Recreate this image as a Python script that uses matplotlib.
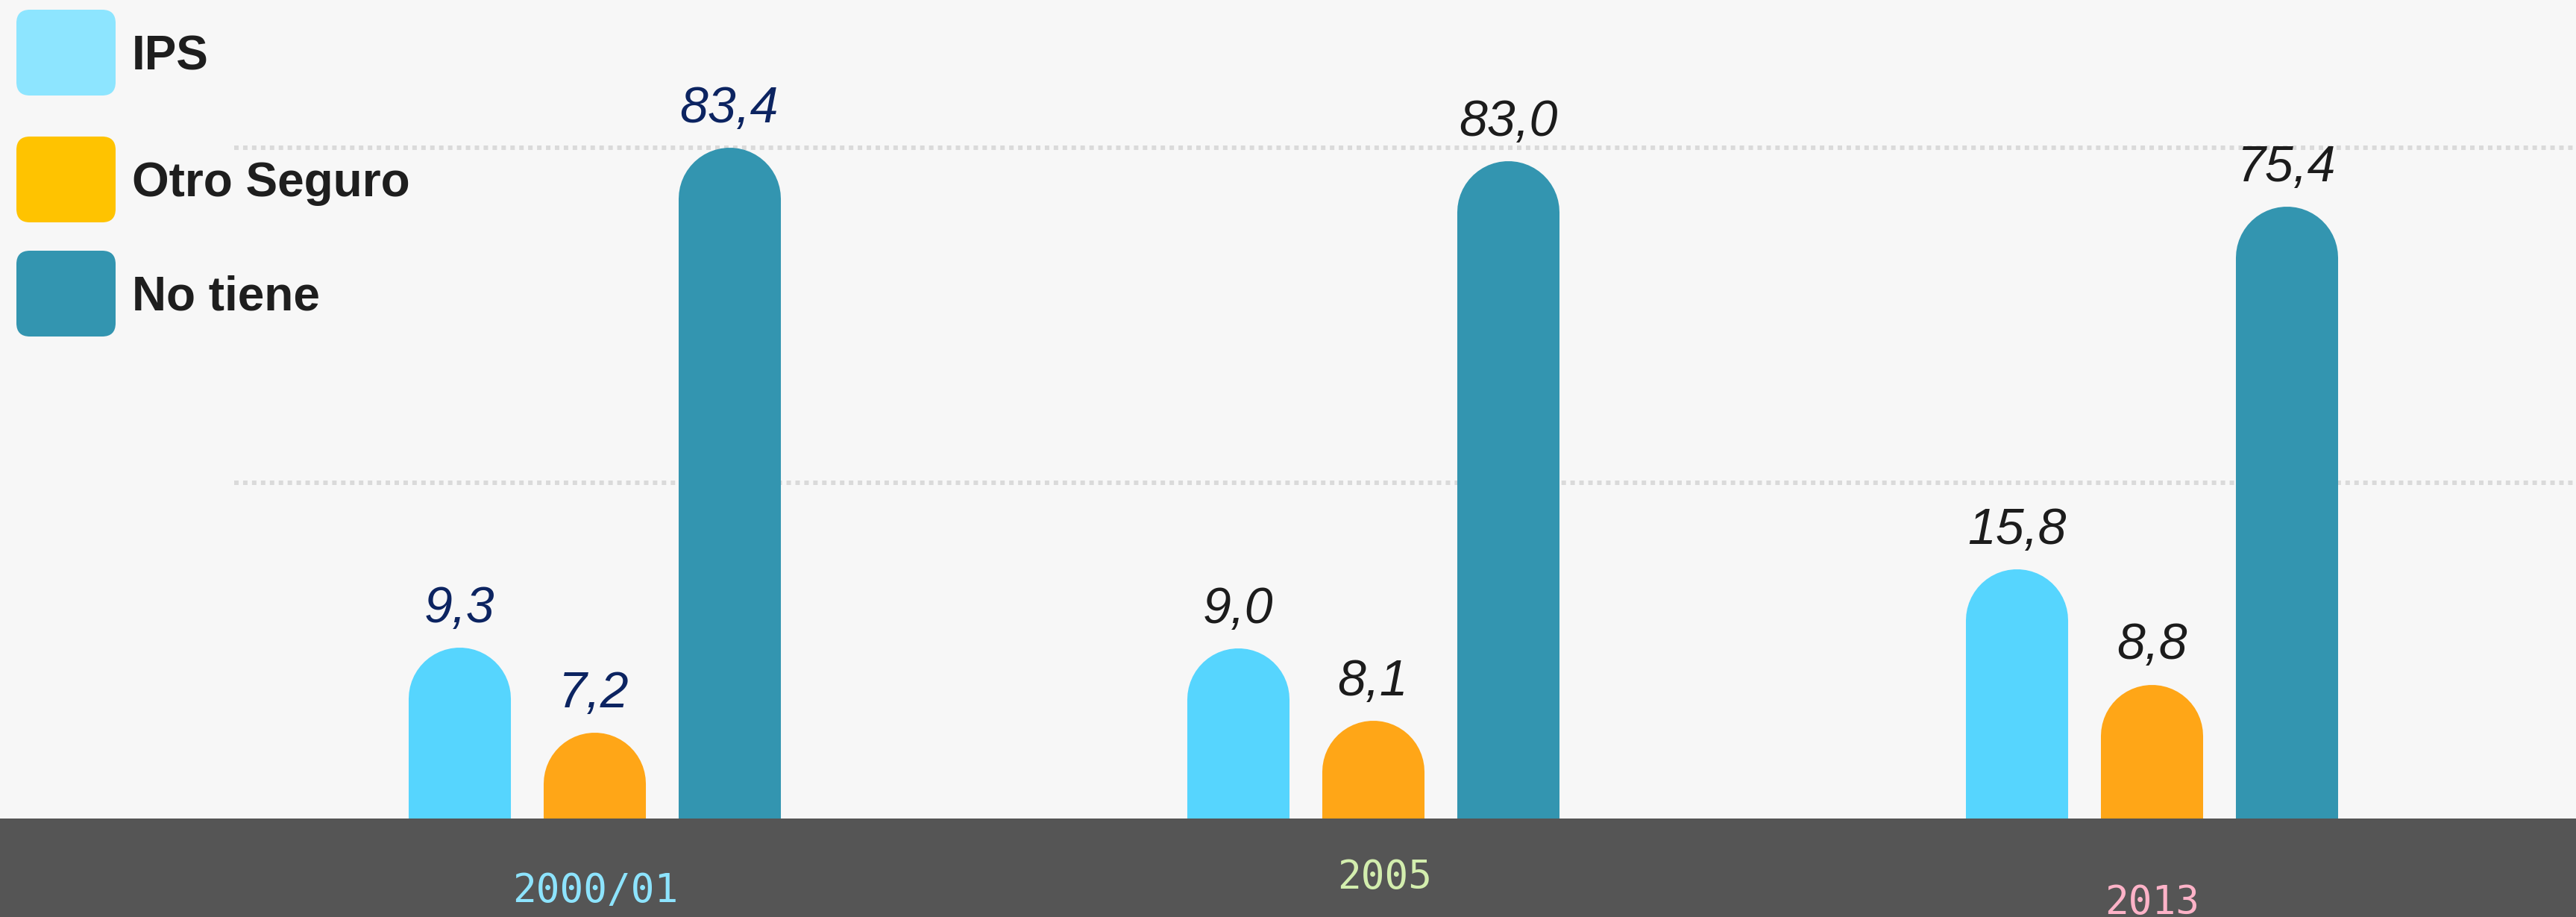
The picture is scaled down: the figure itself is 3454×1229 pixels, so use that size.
import numpy as np
import matplotlib.pyplot as plt
from matplotlib.patches import FancyBboxPatch, Rectangle
from matplotlib.transforms import blended_transform_factory

# Cobertura de seguro medico por periodo (%)
periodos = ['2000/01', '2005', '2013']
series = ['IPS', 'Otro Seguro', 'No tiene']

# valores rotulados sobre cada barra
ips = [9.3, 9.0, 15.8]
otro_seguro = [7.2, 8.1, 8.8]
no_tiene = [83.4, 83.0, 75.4]

# altura con la que cada barra esta dibujada en el grafico original
# (escala de las lineas guia: 50 y 100)
alto_ips = [25.5, 25.4, 37.2]
alto_otro = [12.8, 14.6, 20.0]
alto_no_tiene = [100.0, 98.0, 91.2]
guias = [50, 100]

col_barras = ['#56d5fe', '#ffa617', '#3395b0']
col_leyenda = ['#8de5ff', '#ffc300', '#3395b0']
col_periodo = ['#8de4ff', '#d3eeae', '#ffb3c8']
col_valor = ['#0c2461', '#1c1c1c', '#1c1c1c']

W, H, DPI = 3454, 1229, 100
base = 1097  # pixel donde empieza la franja gris

fig = plt.figure(figsize=(W / DPI, H / DPI), dpi=DPI, facecolor='#f7f7f7')
fig.add_artist(Rectangle((0, 0), 1, (H - base) / H, transform=fig.transFigure,
                         facecolor='#555555', edgecolor='none', zorder=-1))

ax = fig.add_axes([0, (H - base) / H, 1, base / H])
ax.set_facecolor('none')
xlim = (-0.7626, 2.5443)
ylim = (0, 122)
ax.set_xlim(*xlim)
ax.set_ylim(*ylim)
ax.axis('off')

# lineas guia punteadas
for g in guias:
    ax.axhline(g, xmin=314 / W, xmax=1, color='#dadada', lw=4.3,
               linestyle=(0, (1.0, 1.0)), zorder=0)

x = np.arange(len(periodos))
desp = 0.1733
ancho = 0.1312
px_x = W / (xlim[1] - xlim[0])
px_y = base / (ylim[1] - ylim[0])
lw = ancho * px_x * 72 / DPI
r = ancho * px_x / 2 / px_y  # radio del tope redondeado en unidades de y

valores = [ips, otro_seguro, no_tiene]
alturas = [alto_ips, alto_otro, alto_no_tiene]
for k in range(3):
    xs = x + (k - 1) * desp
    alt = np.array(alturas[k])
    ax.vlines(xs, -3 * r, alt - r, colors=col_barras[k], linewidth=lw,
              capstyle='round', zorder=2)
    for i in range(len(xs)):
        txt = f'{valores[k][i]:.1f}'.replace('.', ',')
        ax.annotate(txt, xy=(xs[i], alt[i]), xytext=(0, 34 * 72 / DPI),
                    textcoords='offset points', ha='center', va='baseline',
                    fontsize=49, style='italic', family='Liberation Sans',
                    color=col_valor[i], zorder=3)

# etiquetas de periodo en la franja inferior
trans = blended_transform_factory(ax.transData, ax.transAxes)
bajada = [97, 79, 113]
corrida = [2, 16, 0]
for i, p in enumerate(periodos):
    ax.annotate(p, xy=(x[i], 0), xycoords=trans,
                xytext=(corrida[i] * 72 / DPI, -bajada[i] * 72 / DPI),
                textcoords='offset points', ha='center', va='center',
                fontsize=38, family='DejaVu Sans Mono', color=col_periodo[i],
                annotation_clip=False)

# leyenda dibujada en coordenadas de pixel
lg = fig.add_axes([0, 0, 1, 1])
lg.set_xlim(0, W)
lg.set_ylim(H, 0)
lg.axis('off')
lg.set_facecolor('none')
tops = [13, 183, 336]
for k, s in enumerate(series):
    lg.add_patch(FancyBboxPatch((22, tops[k]), 133, 115,
                                boxstyle='round,pad=0,rounding_size=18',
                                facecolor=col_leyenda[k], edgecolor='none'))
    lg.text(177, tops[k] + 80, s, fontsize=46, fontweight='bold',
            family='Liberation Sans', color='#1e1e1e', va='baseline', ha='left')

fig.savefig('out.png', dpi=DPI, facecolor=fig.get_facecolor())
